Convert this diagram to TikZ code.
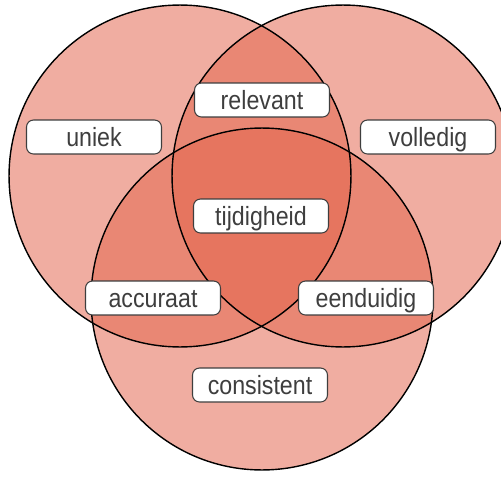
\documentclass[tikz,border=0pt]{standalone}
\usepackage{fontspec}
\setmainfont{Liberation Sans}[FakeStretch=0.88]
\usetikzlibrary{positioning}
\definecolor{vennrood}{RGB}{227,101,77}
\definecolor{labelgrijs}{RGB}{62,62,62}
\tikzset{
    x=0.02cm, y=-0.02cm, % 1 unit = 1 pixel of the drawing
    set/.style={circle, minimum size=6.84cm, inner sep=0pt, fill=vennrood, fill opacity=0.53}, % the filled sets
    rand/.style={circle, minimum size=6.84cm, inner sep=0pt, draw=black, line width=0.8pt}, % outline of a set
    kader/.style={draw=labelgrijs, line width=0.6pt, fill=white, rounded corners=4pt, minimum width=2.7cm, minimum height=0.68cm, inner sep=0pt, text height=10.6pt, text depth=0pt, text=labelgrijs, font=\fontsize{15}{15}\selectfont},
}

\begin{document}
\begin{tikzpicture}
        \useasboundingbox (0,0) rectangle (501,477);

        \node[set] (links) at (180,176) {};
        \node[set] (rechts) at (343,176) {};
        \node[set] (onder) at (262,299) {};

        \node[rand] (links-rand) at (links) {};
        \node[rand] (rechts-rand) at (rechts) {};
        \node[rand] (onder-rand) at (onder) {};

        \node[kader] (uniek) at (94,137) {uniek};
        \node[kader] (volledig) at (428,137) {volledig};
        \node[kader] (relevant) at (262,100) {relevant};
        \node[kader] (tijdigheid) at (261,216) {tijdigheid};
        \node[kader] (accuraat) at (153,298) {accuraat};
        \node[kader] (eenduidig) at (366,298) {eenduidig};
        \node[kader] (consistent) at (260,385) {consistent};

\end{tikzpicture}
\end{document}
